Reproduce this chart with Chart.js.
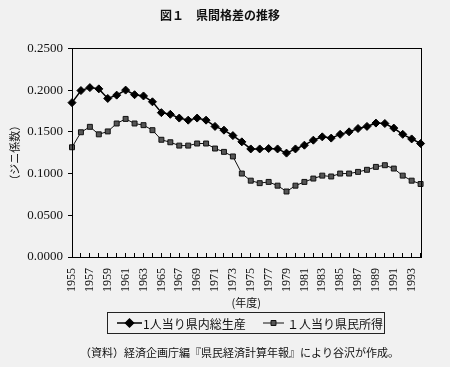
<!DOCTYPE html>
<html>
<head>
<meta charset="utf-8">
<script src="https://cdn.jsdelivr.net/npm/chart.js@4/dist/chart.umd.min.js"></script>
<style>
    html, body { margin: 0; padding: 0; background: #f1f1f1; }
    #wrap { width: 450px; height: 367px; }
</style>
</head>
<body>
<div id="wrap"><canvas id="myChart" width="450" height="367"></canvas></div>
<script>
const years = ["1955", "1956", "1957", "1958", "1959", "1960", "1961", "1962", "1963", "1964",
    "1965", "1966", "1967", "1968", "1969", "1970", "1971", "1972", "1973", "1974",
    "1975", "1976", "1977", "1978", "1979", "1980", "1981", "1982", "1983", "1984",
    "1985", "1986", "1987", "1988", "1989", "1990", "1991", "1992", "1993", "1994"];

// 1人当り県内総生産
const gdpGini = [0.185, 0.1995, 0.203, 0.2015, 0.190, 0.194, 0.200, 0.1945, 0.193, 0.186,
    0.173, 0.171, 0.1665, 0.164, 0.1665, 0.164, 0.1565, 0.152, 0.1455, 0.138,
    0.1295, 0.1295, 0.130, 0.1295, 0.1245, 0.1295, 0.134, 0.140, 0.144, 0.1425,
    0.147, 0.150, 0.154, 0.1565, 0.1605, 0.160, 0.1545, 0.147, 0.1415, 0.136];

// 1人当り県民所得
const incomeGini = [0.1315, 0.1495, 0.156, 0.147, 0.1505, 0.160, 0.1655, 0.160, 0.158, 0.152,
    0.1405, 0.1375, 0.1335, 0.1335, 0.136, 0.136, 0.130, 0.126, 0.1205, 0.100,
    0.0915, 0.0885, 0.090, 0.0855, 0.0785, 0.0855, 0.090, 0.094, 0.0975, 0.0965,
    0.100, 0.100, 0.102, 0.1045, 0.108, 0.110, 0.106, 0.0975, 0.0915, 0.0875];

const seriesNames = ["1人当り県内総生産", "１人当り県民所得"];
const yTicks = [0, 0.05, 0.10, 0.15, 0.20, 0.25];

const titleText = "図１　県間格差の推移";
const sourceText = "（資料）経済企画庁編『県民経済計算年報』により谷沢が作成。";

const cjk = "'Noto Sans CJK JP', sans-serif";
const num = "'Liberation Serif', serif";

// frame around plot, boxed legend, source note
const paperPlugin = {
    id: "paper",
    afterDraw: (chart) => {
        const ctx = chart.ctx;
        const a = chart.chartArea;
        ctx.save();
        ctx.strokeStyle = "#000";
        ctx.lineWidth = 1;
        ctx.strokeRect(Math.round(a.left) + 0.5, Math.round(a.top) + 0.5,
            Math.round(a.right - a.left), Math.round(a.bottom - a.top));

        // legend box
        ctx.lineWidth = 1;
        ctx.strokeStyle = "#222";
        ctx.strokeRect(107.5, 312.5, 277, 21);

        const items = [
            { x1: 117, x2: 142, tx: 143 },
            { x1: 263, x2: 284, tx: 287 }
        ];
        const ly = 323;
        chart.data.datasets.forEach((ds, i) => {
            const it = items[i];
            ctx.strokeStyle = ds.borderColor;
            ctx.lineWidth = ds.borderWidth;
            ctx.beginPath();
            ctx.moveTo(it.x1, ly);
            ctx.lineTo(it.x2, ly);
            ctx.stroke();
            ctx.fillStyle = ds.pointBackgroundColor;
            ctx.strokeStyle = ds.pointBorderColor;
            Chart.helpers.drawPoint(ctx, {
                pointStyle: ds.pointStyle,
                radius: ds.pointRadius,
                borderWidth: ds.pointBorderWidth,
                rotation: 0
            }, (it.x1 + it.x2) / 2, ly);
            ctx.fillStyle = "#111";
            ctx.font = "12px " + cjk;
            ctx.textAlign = "left";
            ctx.textBaseline = "middle";
            ctx.fillText(ds.label, it.tx, ly + 1);
        });

        ctx.font = "11px " + cjk;
        ctx.fillStyle = "#111";
        ctx.textAlign = "left";
        ctx.textBaseline = "middle";
        ctx.fillText(sourceText, 80, 353);
        ctx.restore();
    }
};

const ctx = document.getElementById("myChart").getContext("2d");
const myChart = new Chart(ctx, {
    type: "line",
    data: {
        labels: years,
        datasets: [{
            label: seriesNames[0],
            data: gdpGini,
            borderColor: "#000",
            borderWidth: 1.5,
            pointStyle: "rectRot",
            pointRadius: 4,
            pointBackgroundColor: "#000",
            pointBorderColor: "#000",
            pointBorderWidth: 1,
            tension: 0
        }, {
            label: seriesNames[1],
            data: incomeGini,
            borderColor: "#111",
            borderWidth: 1,
            pointStyle: "rect",
            pointRadius: 3.5,
            pointBackgroundColor: "#555",
            pointBorderColor: "#111",
            pointBorderWidth: 1,
            tension: 0
        }]
    },
    options: {
        responsive: false,
        animation: false,
        layout: { padding: { left: 0, right: 10, top: 0, bottom: 58 } },
        plugins: {
            legend: { display: false },
            tooltip: { enabled: false },
            title: {
                display: true,
                text: titleText,
                color: "#111",
                font: { family: cjk, size: 12, weight: "bold" },
                padding: { top: 8, bottom: 26 }
            }
        },
        scales: {
            x: {
                grid: { drawOnChartArea: false, tickLength: -4, color: "#000" },
                border: { color: "#000", width: 1 },
                ticks: {
                    autoSkip: false,
                    maxRotation: 90,
                    minRotation: 90,
                    padding: 15,
                    color: "#111",
                    font: { family: num, size: 12 },
                    callback: (v, i) => (i % 2 === 0 ? years[i] : "")
                },
                title: {
                    display: true,
                    text: "(年度)",
                    color: "#111",
                    font: { family: cjk, size: 11 },
                    padding: 0
                },
                afterFit: (scale) => { scale.height = 52; }
            },
            y: {
                min: 0,
                max: 0.25,
                grid: { drawOnChartArea: false, tickLength: 4, color: "#000" },
                border: { color: "#000", width: 1 },
                afterBuildTicks: (scale) => { scale.ticks = yTicks.map(v => ({ value: v })); },
                ticks: {
                    padding: 5,
                    color: "#111",
                    font: { family: num, size: 13 },
                    callback: (v) => Number(v).toFixed(4)
                },
                title: {
                    display: true,
                    text: "（ジニ係数）",
                    color: "#111",
                    font: { family: cjk, size: 11 },
                    padding: { top: 8, bottom: 0 }
                },
                afterFit: (scale) => { scale.width = 72; }
            }
        }
    },
    plugins: [paperPlugin]
});
</script>
</body>
</html>
